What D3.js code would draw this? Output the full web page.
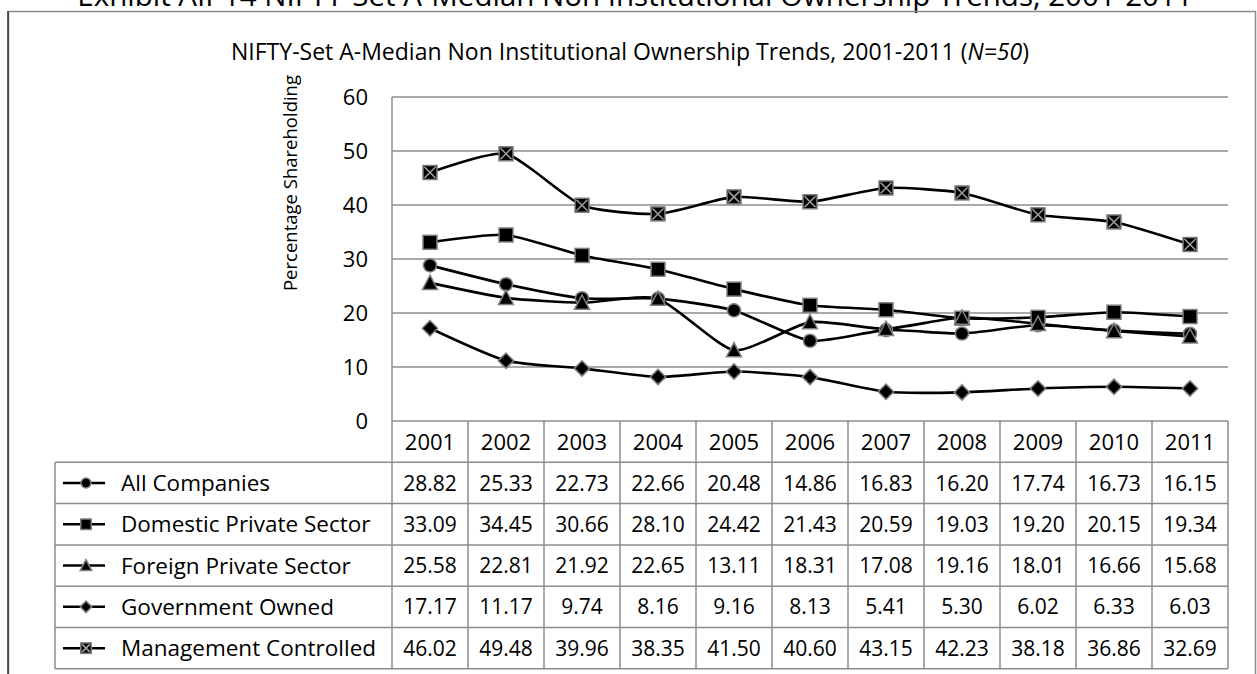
<!DOCTYPE html>
<html>
<head>
<meta charset="utf-8">
<script src="https://cdn.jsdelivr.net/npm/d3@7"></script>
<style>
  body { margin: 0; background: #fff; }
  svg { display: block; font-family: "Open Sans", Lato, sans-serif; }
</style>
</head>
<body>
<div id="chart"></div>
<script>
// chart data
const years = ["2001", "2002", "2003", "2004", "2005", "2006", "2007", "2008", "2009", "2010", "2011"];
const seriesNames = ["All Companies", "Domestic Private Sector", "Foreign Private Sector", "Government Owned", "Management Controlled"];
const allCompanies = [28.82, 25.33, 22.73, 22.66, 20.48, 14.86, 16.83, 16.20, 17.74, 16.73, 16.15];
const domesticPrivate = [33.09, 34.45, 30.66, 28.10, 24.42, 21.43, 20.59, 19.03, 19.20, 20.15, 19.34];
const foreignPrivate = [25.58, 22.81, 21.92, 22.65, 13.11, 18.31, 17.08, 19.16, 18.01, 16.66, 15.68];
const governmentOwned = [17.17, 11.17, 9.74, 8.16, 9.16, 8.13, 5.41, 5.30, 6.02, 6.33, 6.03];
const managementControlled = [46.02, 49.48, 39.96, 38.35, 41.50, 40.60, 43.15, 42.23, 38.18, 36.86, 32.69];
const yTicks = [0, 10, 20, 30, 40, 50, 60];
const markerTypes = ["circle", "square", "triangle", "diamond", "xsquare"];

const seriesValues = [allCompanies, domesticPrivate, foreignPrivate, governmentOwned, managementControlled];

const W = 1257, H = 674;
const plot = {left: 392, right: 1228, top: 97, bottom: 421};
const rowH = 41.3;
const legendLeft = 55;

const svg = d3.select("#chart").append("svg").attr("width", W).attr("height", H);

// cut-off heading at the very top, then the chart frame
svg.append("text")
    .attr("x", 635).attr("y", 6)
    .attr("text-anchor", "middle")
    .attr("font-size", 29.5)
    .attr("fill", "#000")
    .text("Exhibit AII-14 NIFTY-Set A-Median Non Institutional Ownership Trends, 2001-2011");

svg.append("rect")
    .attr("x", 8.5).attr("y", 11.5)
    .attr("width", 1247).attr("height", 700)
    .attr("fill", "none").attr("stroke", "#8a8a8a").attr("stroke-width", 1.5);
svg.append("line")
    .attr("x1", 8).attr("x2", 8).attr("y1", 11).attr("y2", H)
    .attr("stroke", "#333").attr("stroke-width", 1.5);

svg.append("text")
    .attr("x", 630).attr("y", 60)
    .attr("text-anchor", "middle")
    .attr("font-size", 23)
    .html('NIFTY-Set A-Median Non Institutional Ownership Trends, 2001-2011 (<tspan font-style="italic">N=50</tspan>)');

const x = d3.scaleBand().domain(years).range([plot.left, plot.right]);
const y = d3.scaleLinear().domain([0, 60]).range([plot.bottom, plot.top]);

// gridlines
svg.append("g").selectAll("line")
    .data(yTicks.filter(d => d > 0))
    .join("line")
    .attr("x1", plot.left).attr("x2", plot.right)
    .attr("y1", d => y(d)).attr("y2", d => y(d))
    .attr("stroke", "#8c8c8c").attr("stroke-width", 1.5);

svg.append("line")
    .attr("x1", plot.left).attr("x2", plot.left)
    .attr("y1", plot.top).attr("y2", plot.bottom)
    .attr("stroke", "#8c8c8c").attr("stroke-width", 1.5);

// y axis labels
svg.append("g").selectAll("text")
    .data(yTicks)
    .join("text")
    .attr("x", 368).attr("y", d => y(d))
    .attr("dy", "0.36em")
    .attr("text-anchor", "end")
    .attr("font-size", 22)
    .text(d => d);

svg.append("text")
    .attr("transform", "translate(297,183) rotate(-90)")
    .attr("text-anchor", "middle")
    .attr("font-size", 18.5)
    .text("Percentage Shareholding");

// smoothed lines like the original
const line = d3.line()
    .x((d, i) => x(years[i]) + x.bandwidth() / 2)
    .y(d => y(d))
    .curve(d3.curveCardinal.tension(0.4));

seriesValues.forEach(vals => {
    svg.append("path")
        .attr("d", line(vals))
        .attr("fill", "none")
        .attr("stroke", "#000")
        .attr("stroke-width", 2.6);
});

function drawMarker(g, type, cx, cy, s) {
    let m;
    if (type === "circle") {
        m = g.append("circle").attr("cx", cx).attr("cy", cy).attr("r", s * 0.47);
    } else if (type === "square" || type === "xsquare") {
        m = g.append("rect").attr("x", cx - s / 2).attr("y", cy - s / 2).attr("width", s).attr("height", s);
    } else if (type === "triangle") {
        const h = s * 0.95;
        m = g.append("path").attr("d", `M${cx},${cy - h / 2 - 1}L${cx + s / 2 + 0.5},${cy + h / 2}L${cx - s / 2 - 0.5},${cy + h / 2}Z`);
    } else if (type === "diamond") {
        const r = s * 0.55;
        m = g.append("path").attr("d", `M${cx},${cy - r}L${cx + r},${cy}L${cx},${cy + r}L${cx - r},${cy}Z`);
    }
    m.attr("fill", "#000").attr("stroke", "#808080").attr("stroke-width", 1.5);
    if (type === "xsquare") {
        const a = s / 2 - 1.5;
        g.append("path")
            .attr("d", `M${cx - a},${cy - a}L${cx + a},${cy + a}M${cx + a},${cy - a}L${cx - a},${cy + a}`)
            .attr("stroke", "#a0a0a0").attr("stroke-width", 1.5);
    }
}

const markers = svg.append("g");
seriesValues.forEach((vals, si) => {
    vals.forEach((v, i) => {
        drawMarker(markers, markerTypes[si], x(years[i]) + x.bandwidth() / 2, y(v), 14);
    });
});

// data table under the plot
const table = svg.append("g");
const gridColor = "#8c8c8c";
const headerBottom = plot.bottom + rowH;
const tableBottom = headerBottom + rowH * seriesNames.length;

years.forEach(yr => {
    table.append("text")
        .attr("x", x(yr) + x.bandwidth() / 2)
        .attr("y", plot.bottom + rowH / 2)
        .attr("dy", "0.36em")
        .attr("text-anchor", "middle")
        .attr("font-size", 22)
        .text(yr);
});

const hLines = [plot.bottom].concat(seriesNames.map((d, i) => headerBottom + rowH * i), [tableBottom]);
hLines.forEach((yy, i) => {
    table.append("line")
        .attr("x1", i === 0 ? plot.left : legendLeft).attr("x2", plot.right)
        .attr("y1", yy).attr("y2", yy)
        .attr("stroke", gridColor).attr("stroke-width", 1.5);
});

years.forEach(yr => {
    table.append("line")
        .attr("x1", x(yr)).attr("x2", x(yr))
        .attr("y1", plot.bottom).attr("y2", tableBottom)
        .attr("stroke", gridColor).attr("stroke-width", 1.5);
});
table.append("line")
    .attr("x1", plot.right).attr("x2", plot.right)
    .attr("y1", plot.bottom).attr("y2", tableBottom)
    .attr("stroke", gridColor).attr("stroke-width", 1.5);
table.append("line")
    .attr("x1", legendLeft).attr("x2", legendLeft)
    .attr("y1", headerBottom).attr("y2", tableBottom)
    .attr("stroke", gridColor).attr("stroke-width", 1.5);

seriesNames.forEach((name, si) => {
    const cy = headerBottom + rowH * si + rowH / 2;
    table.append("line")
        .attr("x1", 63).attr("x2", 105)
        .attr("y1", cy).attr("y2", cy)
        .attr("stroke", "#000").attr("stroke-width", 2.5);
    drawMarker(table, markerTypes[si], 86, cy, 10.5);
    table.append("text")
        .attr("x", 121).attr("y", cy)
        .attr("dy", "0.36em")
        .attr("font-size", 22.5)
        .text(name);
    seriesValues[si].forEach((v, i) => {
        table.append("text")
            .attr("x", x(years[i]) + x.bandwidth() / 2)
            .attr("y", cy)
            .attr("dy", "0.36em")
            .attr("text-anchor", "middle")
            .attr("font-size", 21)
            .text(v.toFixed(2));
    });
});
</script>
</body>
</html>
